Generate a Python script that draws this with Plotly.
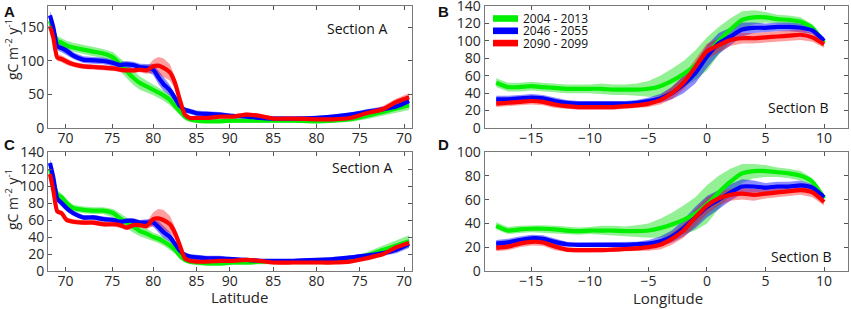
import plotly.graph_objects as go

# ---------------- data ----------------
series_names = ["2004 - 2013", "2046 - 2055", "2090 - 2099"]
line_colors = ["#00f000", "#0000ff", "#ff0000"]
band_colors = ["rgba(0,220,0,0.42)", "rgba(0,0,255,0.45)", "rgba(255,0,0,0.38)"]

# Section A: distance along section (km) and latitude tick positions
sec_km = [25, 67, 117, 172, 235, 319, 445, 571, 697, 823, 907, 991, 1075, 1159,
          1243, 1327, 1390, 1453, 1537, 1600, 1663, 1726, 1789, 1873, 1999, 2167,
          2335, 2503, 2671, 2839, 3091, 3385, 3595, 3805, 4015, 4225, 4393, 4553]
lat_tick_km = [222, 810, 1327, 1873, 2293, 2839, 3385, 3931, 4490]
lat_tick_lbl = ["70", "75", "80", "85", "90", "85", "80", "75", "70"]

# Panel A (total production)
A_green = [160, 145, 130, 127, 123, 120, 117, 114, 111, 105, 95, 85, 75, 67, 62, 57, 53, 49,
           42, 33, 25, 17, 13, 11, 10, 10, 11, 11, 11, 11, 11, 10, 11, 13, 18, 24, 29, 34]
A_blue = [168, 150, 122, 119, 115, 108, 102, 101, 100, 97, 94, 95, 94, 91, 90, 87, 76, 66,
          56, 45, 33, 27, 25, 22, 21, 20, 18, 17, 15, 14, 14, 15, 17, 20, 24, 28, 32, 40]
A_red = [152, 135, 105, 103, 99, 95, 92, 91, 90, 89, 87, 86, 86, 87, 86, 92, 93, 90,
         83, 68, 42, 20, 15, 15, 15, 17, 17, 20, 18, 14, 14, 13, 13, 15, 22, 28, 39, 46]
A_green_sd = [8, 8, 7, 7, 7, 7, 7, 7, 7, 8, 10, 11, 11, 10, 9, 8, 8, 8,
              8, 7, 6, 5, 4, 3, 3, 3, 3, 3, 3, 3, 3, 3, 3, 4, 5, 6, 6, 7]
A_blue_sd = [7, 6, 6, 6, 6, 5, 5, 5, 5, 5, 5, 5, 5, 5, 6, 8, 10, 10,
             8, 6, 5, 4, 4, 4, 4, 4, 3, 3, 3, 3, 3, 3, 3, 3, 4, 4, 5, 8]
A_red_sd = [6, 6, 5, 5, 5, 4, 4, 4, 4, 4, 4, 4, 4, 4, 5, 10, 13, 14,
            12, 9, 6, 4, 3, 3, 3, 3, 3, 3, 3, 3, 3, 3, 3, 3, 4, 5, 5, 6]

# Panel C (new production)
C_green = [120, 105, 90, 87, 80, 74, 72, 71, 71, 68, 62, 57, 52, 47, 44, 40, 38, 35,
           30, 25, 18, 13, 11, 10, 9, 9, 10, 10, 11, 11, 11, 11, 11, 13, 18, 25, 30, 35]
C_blue = [127, 110, 85, 80, 74, 68, 63, 63, 61, 60, 58, 59, 59, 57, 57, 57, 52, 46,
          40, 32, 24, 19, 17, 16, 15, 15, 14, 13, 12, 12, 12, 13, 14, 16, 18, 21, 25, 32]
C_red = [114, 95, 70, 68, 60, 58, 57, 57, 55, 55, 54, 51, 54, 54, 53, 61, 62, 60,
         55, 45, 30, 15, 12, 11, 11, 12, 12, 13, 12, 10, 10, 10, 10, 11, 15, 20, 28, 33]
C_green_sd = [6, 6, 5, 4, 4, 4, 4, 4, 4, 5, 6, 7, 7, 6, 6, 5, 5, 5,
              5, 4, 4, 3, 3, 3, 3, 3, 3, 3, 3, 3, 3, 3, 3, 3, 4, 5, 6, 7]
C_blue_sd = [5, 5, 4, 4, 4, 3, 3, 3, 3, 3, 3, 3, 3, 3, 4, 5, 7, 7,
             6, 4, 3, 3, 3, 3, 3, 3, 2, 2, 2, 2, 2, 2, 2, 2, 3, 3, 4, 5]
C_red_sd = [4, 4, 3, 3, 3, 3, 3, 3, 3, 3, 3, 3, 3, 3, 4, 8, 11, 12,
            10, 7, 4, 3, 2, 2, 2, 2, 2, 2, 2, 2, 2, 2, 2, 2, 3, 3, 4, 4]

# Section B: longitude
lon = [-18, -17, -16, -15, -14, -13, -12, -11, -10, -9, -8, -7, -6, -5, -4,
       -3, -2, -1, 0, 1, 2, 3, 4, 5, 6, 7, 8, 9, 10]

B_green = [52, 47, 47, 48, 47, 46, 45, 45, 45, 45, 44, 44, 44, 45, 48,
           54, 62, 72, 85, 100, 113, 124, 127, 127, 125, 124, 122, 115, 98]
B_blue = [33, 33, 34, 35, 34, 31, 29, 28, 28, 28, 28, 28, 29, 31, 34,
          40, 50, 63, 82, 97, 105, 113, 115, 115, 116, 116, 115, 112, 100]
B_red = [28, 29, 30, 31, 30, 27, 25, 24, 24, 24, 24, 25, 26, 28, 32,
         40, 52, 70, 88, 95, 101, 103, 103, 104, 105, 106, 107, 104, 96]
B_green_sd = [5, 5, 5, 5, 5, 5, 5, 5, 5, 6, 6, 6, 7, 9, 12,
              14, 15, 17, 19, 16, 13, 10, 8, 6, 5, 5, 5, 4, 4]
B_blue_sd = [4, 4, 4, 4, 4, 4, 3, 3, 3, 3, 3, 3, 3, 4, 5,
             7, 10, 12, 13, 12, 10, 8, 6, 5, 5, 5, 5, 4, 4]
B_red_sd = [4, 4, 4, 4, 4, 4, 3, 3, 3, 3, 3, 3, 3, 4, 5,
            7, 8, 9, 9, 8, 7, 6, 6, 6, 6, 6, 6, 5, 4]

D_green = [38, 34, 35, 35.5, 35.5, 35, 34, 33.5, 34, 34, 34, 33.5, 33.5, 34, 36,
           39, 43, 48, 56, 66, 75, 82, 84, 84, 83, 82, 80, 75, 61]
D_blue = [23, 24, 26, 27.5, 27, 24.5, 22.5, 22, 22, 22, 22, 22, 22.5, 23, 25,
          29, 36, 45, 54, 60, 66, 71, 71, 70, 71, 71, 72, 70, 62]
D_red = [19.5, 20.5, 23, 24.5, 24, 20.5, 18, 17.5, 17.5, 17.5, 18, 18.5, 19, 20, 22,
         27, 34, 45, 55, 61, 64, 65, 64, 65, 66, 67, 68, 66, 58]
D_green_sd = [3, 3, 3, 3, 3, 3, 3, 3, 3, 4, 4, 4, 5, 6, 8,
              10, 12, 14, 16, 14, 11, 8, 6, 5, 4, 4, 4, 3, 4]
D_blue_sd = [3, 3, 3, 3, 3, 3, 2, 2, 2, 2, 2, 2, 2, 3, 4,
             5, 7, 9, 9, 8, 7, 6, 5, 4, 4, 4, 4, 3, 3]
D_red_sd = [3, 3, 3, 3, 3, 3, 2, 2, 2, 2, 2, 2, 2, 3, 4,
            5, 6, 7, 7, 6, 5, 5, 5, 4, 4, 4, 4, 4, 3]

lon_ticks = [-15, -10, -5, 0, 5, 10]
lon_tick_lbl = ["\u221215", "\u221210", "\u22125", "0", "5", "10"]

# ---------------- figure ----------------
W, H = 851, 309
FONT = "Open Sans"
TXT = "#262626"

fig = go.Figure()

panels = [
    ("x", "y", sec_km, [A_green, A_blue, A_red], [A_green_sd, A_blue_sd, A_red_sd]),
    ("x2", "y2", lon, [B_green, B_blue, B_red], [B_green_sd, B_blue_sd, B_red_sd]),
    ("x3", "y3", sec_km, [C_green, C_blue, C_red], [C_green_sd, C_blue_sd, C_red_sd]),
    ("x4", "y4", lon, [D_green, D_blue, D_red], [D_green_sd, D_blue_sd, D_red_sd]),
]

for xa, ya, xs, vals, sds in panels:
    for i in range(3):
        lo = [v - s for v, s in zip(vals[i], sds[i])]
        hi = [v + s for v, s in zip(vals[i], sds[i])]
        fig.add_trace(go.Scatter(x=list(xs) + list(xs)[::-1], y=hi + lo[::-1],
                                 fill="toself", fillcolor=band_colors[i],
                                 line=dict(width=0), mode="lines",
                                 hoverinfo="skip", showlegend=False,
                                 xaxis=xa, yaxis=ya))
    for i in range(3):
        fig.add_trace(go.Scatter(x=xs, y=vals[i], mode="lines",
                                 line=dict(color=line_colors[i], width=4.2, shape="spline", smoothing=0.6),
                                 name=series_names[i], showlegend=False,
                                 xaxis=xa, yaxis=ya))


def px2x(p):
    return p / W


def px2y(p):
    return 1 - p / H


dom_x_left = [px2x(48), px2x(412)]
dom_x_right = [px2x(484.5), px2x(847.5)]
dom_y_top = [px2y(128), px2y(6)]
dom_y_bot = [px2y(271), px2y(152)]

axis_common = dict(showline=True, linecolor="#7a7a7a", linewidth=1, mirror="ticks",
                   ticks="inside", ticklen=4, tickcolor="#555555", showgrid=False,
                   zeroline=False, automargin=False, ticklabeloverflow="allow",
                   tickfont=dict(family=FONT, size=14, color=TXT))

fig.update_layout(
    width=W, height=H, margin=dict(l=0, r=0, t=0, b=0, autoexpand=False),
    paper_bgcolor="white", plot_bgcolor="white", showlegend=False,
    font=dict(family=FONT, color=TXT),
    xaxis=dict(domain=dom_x_left, anchor="y", range=[0, 4590], tickvals=lat_tick_km,
               ticktext=lat_tick_lbl, **axis_common),
    yaxis=dict(domain=dom_y_top, anchor="x", range=[0, 182], tickvals=[0, 50, 100, 150], **axis_common),
    xaxis2=dict(domain=dom_x_right, anchor="y2", range=[-19, 12], tickvals=lon_ticks,
                ticktext=lon_tick_lbl, **axis_common),
    yaxis2=dict(domain=dom_y_top, anchor="x2", range=[0, 140], tickvals=[0, 20, 40, 60, 80, 100, 120, 140],
                **axis_common),
    xaxis3=dict(domain=dom_x_left, anchor="y3", range=[0, 4590], tickvals=lat_tick_km,
                ticktext=lat_tick_lbl, **axis_common),
    yaxis3=dict(domain=dom_y_bot, anchor="x3", range=[0, 140], tickvals=[0, 20, 40, 60, 80, 100, 120, 140], **axis_common),
    xaxis4=dict(domain=dom_x_right, anchor="y4", range=[-19, 12], tickvals=lon_ticks,
                ticktext=lon_tick_lbl, **axis_common),
    yaxis4=dict(domain=dom_y_bot, anchor="x4", range=[0, 100], tickvals=[0, 20, 40, 60, 80, 100], **axis_common),
)
try:
    fig.update_xaxes(ticklabelstandoff=-3)
except Exception:
    pass

ann = []
for letter, x, y in [("A", 9, 12), ("B", 443, 12), ("C", 9, 144), ("D", 443, 144)]:
    ann.append(dict(text="<b>%s</b>" % letter, x=px2x(x), y=px2y(y), xref="paper", yref="paper",
                    showarrow=False, xanchor="center", yanchor="middle",
                    font=dict(family="Liberation Sans", size=15, color="#111111")))
for t, x, y in [("Section A", 357, 28), ("Section A", 362, 167), ("Section B", 798, 107), ("Section B", 801, 256)]:
    ann.append(dict(text=t, x=px2x(x), y=px2y(y), xref="paper", yref="paper", showarrow=False,
                    xanchor="center", yanchor="middle", font=dict(family=FONT, size=14, color="#111111")))
for y in [50, 200]:
    ann.append(dict(text="gC m<sup>-2</sup> y<sup>-1</sup>", x=px2x(12), y=px2y(y), xref="paper", yref="paper",
                    showarrow=False, textangle=-90, xanchor="center", yanchor="middle",
                    font=dict(family=FONT, size=14, color=TXT)))
ann.append(dict(text="Latitude", x=px2x(239), y=px2y(297), xref="paper", yref="paper", showarrow=False,
                xanchor="center", yanchor="middle", font=dict(family=FONT, size=15, color=TXT)))
ann.append(dict(text="Longitude", x=px2x(668), y=px2y(298), xref="paper", yref="paper", showarrow=False,
                xanchor="center", yanchor="middle", font=dict(family=FONT, size=15, color=TXT)))

shapes = []
for i, name in enumerate(series_names):
    yc = 18.5 + i * 12.3
    shapes.append(dict(type="rect", xref="paper", yref="paper", x0=px2x(493), x1=px2x(518),
                       y0=px2y(yc + 3.3), y1=px2y(yc - 3.3), fillcolor=line_colors[i], line=dict(width=0)))
    ann.append(dict(text=name, x=px2x(521), y=px2y(yc), xref="paper", yref="paper", showarrow=False,
                    xanchor="left", yanchor="middle", font=dict(family=FONT, size=12, color="#111111")))

fig.update_layout(annotations=ann, shapes=shapes)
fig.write_html("out.html", config={"displayModeBar": False},
               post_script="document.body.style.margin='0';document.body.style.overflow='hidden';")
